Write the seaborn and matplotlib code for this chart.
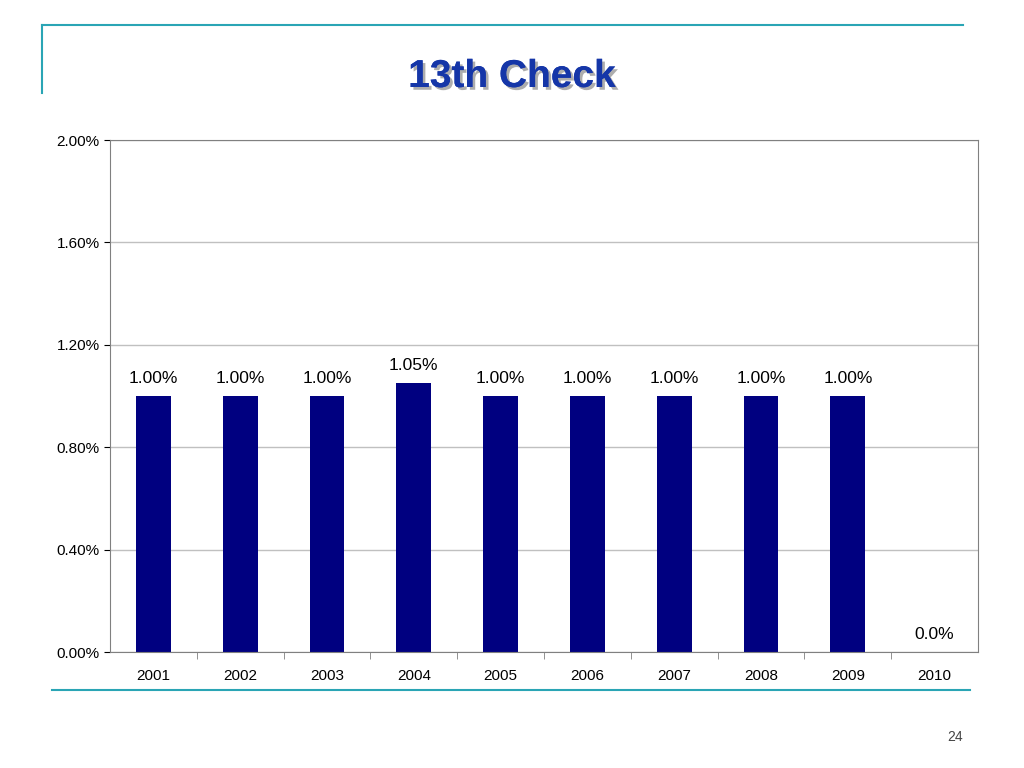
import matplotlib
matplotlib.use("Agg")
import matplotlib.pyplot as plt
import matplotlib.patheffects as pe
from matplotlib.lines import Line2D
from matplotlib.ticker import FuncFormatter, FixedLocator
import pandas as pd
import seaborn as sns

plt.rcParams["font.family"] = "Liberation Sans"

years = ["2001", "2002", "2003", "2004", "2005", "2006", "2007", "2008", "2009", "2010"]
rates = [1.00, 1.00, 1.00, 1.05, 1.00, 1.00, 1.00, 1.00, 1.00, 0.0]
labels = ["1.00%", "1.00%", "1.00%", "1.05%", "1.00%", "1.00%", "1.00%", "1.00%", "1.00%", "0.0%"]

df = pd.DataFrame({"year": years, "rate": rates})

fig = plt.figure(figsize=(10.24, 7.68), dpi=100)
ax = fig.add_axes([0.1074, 0.151, 0.8477, 0.6667])

sns.barplot(data=df, x="year", y="rate", color="#000080", width=0.4, saturation=1, ax=ax)

ax.set_ylim(0, 2.0)
ax.set_xlim(-0.5, len(years) - 0.5)
ax.yaxis.set_major_locator(FixedLocator([0, 0.4, 0.8, 1.2, 1.6, 2.0]))
ax.yaxis.set_major_formatter(FuncFormatter(lambda v, _: f"{v:.2f}%"))
ax.yaxis.grid(True, color="#c0c0c0", linewidth=1)
ax.set_axisbelow(True)
ax.set_xlabel("")
ax.set_ylabel("")
ax.tick_params(axis="x", length=0, labelsize=11, pad=12)
ax.tick_params(axis="y", labelsize=11, length=4)
ax.set_xticks([i + 0.5 for i in range(len(years) - 1)], minor=True)
ax.tick_params(axis="x", which="minor", length=5, color="#808080")
for s in ax.spines.values():
    s.set_color("#808080")

for i, (v, t) in enumerate(zip(rates, labels)):
    ax.text(i, v + 0.04, t, ha="center", va="bottom", fontsize=12.5)

# slide decorations
teal = "#2aa5b5"
fig.add_artist(Line2D([42 / 1024, 963 / 1024], [1 - 25 / 768] * 2, color=teal, lw=1.5))
fig.add_artist(Line2D([42 / 1024] * 2, [1 - 25 / 768, 1 - 93 / 768], color=teal, lw=1.5))
fig.add_artist(Line2D([52 / 1024, 970 / 1024], [1 - 690 / 768] * 2, color=teal, lw=1.5))

fig.text(0.5, 1 - 77 / 768, "13th Check", ha="center", va="center", fontsize=28,
         fontweight="bold", color="#1536a8",
         path_effects=[pe.withSimplePatchShadow(offset=(2, -2), shadow_rgbFace="#999999", alpha=0.8), pe.Normal()])
fig.text(955 / 1024, 1 - 737 / 768, "24", ha="center", va="center", fontsize=10, color="#444444")

fig.savefig("out.png", dpi=100)
